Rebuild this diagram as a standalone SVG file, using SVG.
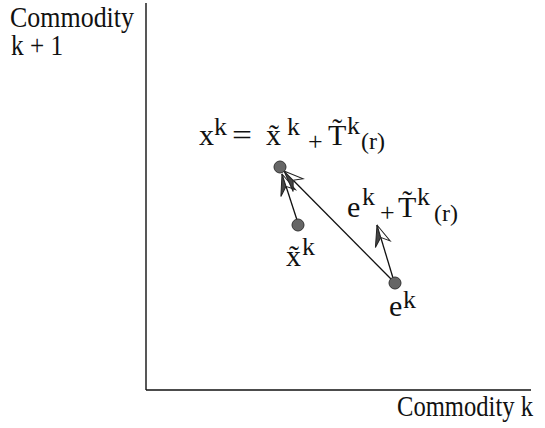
<svg xmlns="http://www.w3.org/2000/svg" width="545" height="428" viewBox="0 0 545 428">
<style>
text{font-family:"Liberation Serif","Noto Serif","DejaVu Serif",serif;fill:#111}
.b{font-size:30px}
.a{font-size:29px}
.s{font-size:26px}
.r{font-size:24px}
.ax{stroke:#111;stroke-width:1.4;fill:none}
.ln{stroke:#111;stroke-width:1.3;fill:none;marker-end:url(#ah)}
.pt{fill:#666;stroke:#333;stroke-width:1}
</style>
<defs>
<marker id="ah" markerUnits="userSpaceOnUse" markerWidth="30" markerHeight="30" viewBox="-25 -12 30 24" refX="0" refY="0" orient="auto" overflow="visible">
<path d="M0,0 L-21,-8 L-13,0 Z" fill="#444" stroke="#222" stroke-width="1"/>
<path d="M0,0 L-13,0 L-19,8 Z" fill="#fff" stroke="#222" stroke-width="1"/>
</marker>
</defs>
<g id="axes">
<line class="ax" x1="146" y1="3" x2="146" y2="390"/>
<line class="ax" x1="146" y1="390" x2="531" y2="390"/>
</g>
<g id="axis-labels">
<text class="a" x="10" y="27" textLength="124" lengthAdjust="spacingAndGlyphs">Commodity</text>
<text class="a" x="11" y="55" textLength="52" lengthAdjust="spacingAndGlyphs">k + 1</text>
<text class="a" x="397" y="416" textLength="136" lengthAdjust="spacingAndGlyphs">Commodity k</text>
</g>
<g id="connectors">
<line class="ln" x1="297" y1="220" x2="282" y2="174"/>
<line class="ln" x1="391" y1="279" x2="284" y2="171"/>
<line class="ln" x1="393" y1="278" x2="377" y2="225"/>
</g>
<g id="node-x">
<circle class="pt" cx="280" cy="167" r="6"/>
<text><tspan class="b" x="199" y="145">x</tspan><tspan class="s" x="214" y="135">k</tspan><tspan class="b" x="232" y="145" textLength="20" lengthAdjust="spacingAndGlyphs">=</tspan><tspan class="b" x="266" y="145">x̃</tspan><tspan class="s" x="287" y="135">k</tspan><tspan class="s" x="308" y="150">+</tspan><tspan class="b" x="328" y="145">T̃</tspan><tspan class="s" x="347" y="134">k</tspan><tspan class="r" x="361" y="149">(r)</tspan></text>
</g>
<g id="node-xtilde">
<circle class="pt" cx="298" cy="225" r="6"/>
<text><tspan class="b" x="286" y="266">x̃</tspan><tspan class="s" x="302" y="255">k</tspan></text>
</g>
<g id="node-e">
<circle class="pt" cx="395" cy="283" r="6"/>
<text><tspan class="b" x="389" y="316">e</tspan><tspan class="s" x="403" y="308">k</tspan></text>
</g>
<g id="label-e-plus-t">
<text><tspan class="b" x="347" y="217">e</tspan><tspan class="s" x="362" y="205">k</tspan><tspan class="s" x="380" y="221">+</tspan><tspan class="b" x="398" y="217">T̃</tspan><tspan class="s" x="417" y="205">k</tspan><tspan class="r" x="434" y="221">(r)</tspan></text>
</g>
</svg>
